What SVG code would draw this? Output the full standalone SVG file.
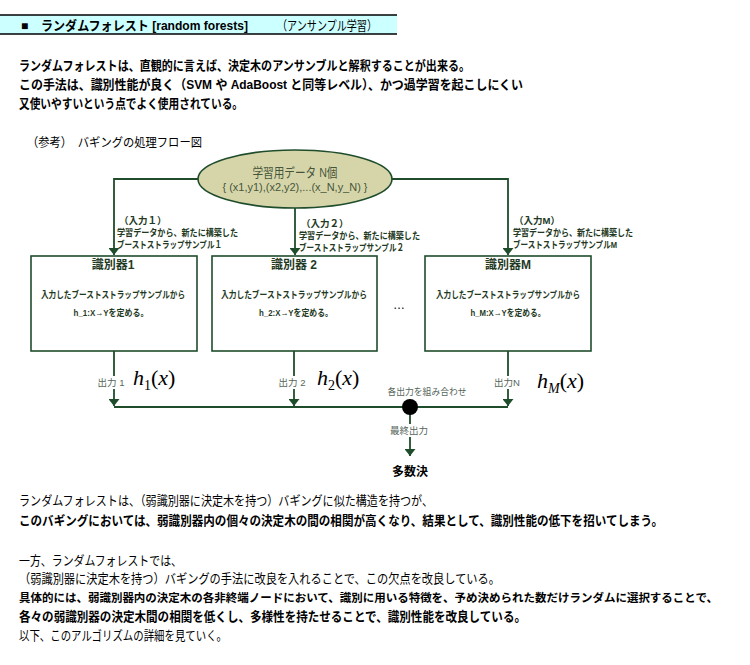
<svg xmlns="http://www.w3.org/2000/svg" width="750" height="665" viewBox="0 0 750 665">
<defs>
<style>
text{font-family:"Liberation Sans","Noto Sans CJK JP",sans-serif;fill:#000}
.b{font-weight:bold}
.body{font-size:13px}
.lab{font-size:9.5px;font-weight:bold;fill:#223822}
.box{fill:#fff;stroke:#1f4d2c;stroke-width:1.6}
.btitle{font-size:12px;font-weight:bold;fill:#1f3a24}
.btext{font-size:9.5px;font-weight:bold;fill:#1f3a24}
.out{font-size:9.5px;fill:#56665a}
.math{font-family:"Liberation Serif","DejaVu Serif",serif;font-size:22px;fill:#000}
.conn{fill:none;stroke:#1f4d2c;stroke-width:1.8}
</style>
<marker id="ah" viewBox="0 0 7 11" refX="7" refY="5.5" markerWidth="7" markerHeight="11" markerUnits="userSpaceOnUse" orient="auto">
<path d="M0,0 L7,5.5 L0,11 z" fill="#1f4d2c"/>
</marker>
</defs>
<rect width="750" height="665" fill="#fff"/>

<g id="header">
<rect x="0" y="15" width="397" height="19" fill="#ccffff"/>
<line x1="0" y1="15" x2="397" y2="15" stroke="#000" stroke-width="1.5"/>
<line x1="0" y1="34" x2="397" y2="34" stroke="#000" stroke-width="1.5"/>
<text x="21" y="29.5" class="b" font-size="12">■</text>
<text x="41" y="29.5" class="b" font-size="13" textLength="207" lengthAdjust="spacingAndGlyphs">ランダムフォレスト [random forests]</text>
<text x="277" y="29.5" font-size="13" textLength="100" lengthAdjust="spacingAndGlyphs">（アンサンプル学習）</text>
</g>

<g id="intro">
<text x="19" y="70" class="body b" textLength="451" lengthAdjust="spacingAndGlyphs">ランダムフォレストは、直観的に言えば、決定木のアンサンブルと解釈することが出来る。</text>
<text x="19" y="89" class="body b" textLength="504" lengthAdjust="spacingAndGlyphs">この手法は、識別性能が良く（SVM や AdaBoost と同等レベル）、かつ過学習を起こしにくい</text>
<text x="19" y="108" class="body b" textLength="224" lengthAdjust="spacingAndGlyphs">又使いやすいという点でよく使用されている。</text>
<text x="27" y="146.5" font-size="12.5" textLength="175" lengthAdjust="spacingAndGlyphs">（参考）　バギングの処理フロー図</text>
</g>

<g id="connectors">
<path class="conn" d="M199,179 H114 V255" marker-end="url(#ah)"/>
<path class="conn" d="M295,208 V255" marker-end="url(#ah)"/>
<path class="conn" d="M391,179 H508 V255" marker-end="url(#ah)"/>
<path class="conn" d="M114,351 V406" marker-end="url(#ah)"/>
<path class="conn" d="M294,351 V406" marker-end="url(#ah)"/>
<path class="conn" d="M508,351 V406" marker-end="url(#ah)"/>
<path class="conn" d="M114,407 H508"/>
<path class="conn" d="M410,407 V456" marker-end="url(#ah)"/>
</g>

<g id="data">
<ellipse cx="295" cy="179" rx="97" ry="29" fill="#d6d5aa" stroke="#1f4d2c" stroke-width="1.6"/>
<text x="295" y="177" text-anchor="middle" font-size="13" style="fill:#46553a" textLength="85" lengthAdjust="spacingAndGlyphs">学習用データ N個</text>
<text x="295" y="191" text-anchor="middle" font-size="10.5" style="fill:#46553a" textLength="145" lengthAdjust="spacingAndGlyphs">{ (x1,y1),(x2,y2),...(x_N,y_N) }</text>
</g>

<g id="input1">
<text x="119" y="224" class="lab">（入力１）</text>
<text x="117" y="236" class="lab" textLength="121" lengthAdjust="spacingAndGlyphs">学習データから、新たに構築した</text>
<text x="117" y="248" class="lab" textLength="105" lengthAdjust="spacingAndGlyphs">ブーストストラップサンプル１</text>
</g>
<g id="input2">
<text x="301" y="227" class="lab">（入力２）</text>
<text x="299" y="239" class="lab" textLength="121" lengthAdjust="spacingAndGlyphs">学習データから、新たに構築した</text>
<text x="299" y="251" class="lab" textLength="105" lengthAdjust="spacingAndGlyphs">ブーストストラップサンプル２</text>
</g>
<g id="inputM">
<text x="514" y="224" class="lab">（入力M）</text>
<text x="513" y="236" class="lab" textLength="120" lengthAdjust="spacingAndGlyphs">学習データから、新たに構築した</text>
<text x="513" y="248" class="lab" textLength="104" lengthAdjust="spacingAndGlyphs">ブーストストラップサンプルM</text>
</g>

<g id="clf1">
<rect class="box" x="31" y="256" width="166" height="95"/>
<text x="113" y="269" class="btitle" text-anchor="middle">識別器1</text>
<text x="113" y="298" class="btext" text-anchor="middle" textLength="144" lengthAdjust="spacingAndGlyphs">入力したブーストストラップサンプルから</text>
<text x="111" y="316" class="btext" text-anchor="middle" textLength="75" lengthAdjust="spacingAndGlyphs">h_1:X→Yを定める。</text>
</g>
<g id="clf2">
<rect class="box" x="212" y="256" width="165" height="95"/>
<text x="294" y="269" class="btitle" text-anchor="middle">識別器 2</text>
<text x="294" y="298" class="btext" text-anchor="middle" textLength="146" lengthAdjust="spacingAndGlyphs">入力したブーストストラップサンプルから</text>
<text x="296" y="316" class="btext" text-anchor="middle" textLength="74" lengthAdjust="spacingAndGlyphs">h_2:X→Yを定める。</text>
</g>
<g id="dots">
<text x="399" y="309" text-anchor="middle" font-size="12" fill="#333" textLength="12" lengthAdjust="spacingAndGlyphs">…</text>
</g>
<g id="clfM">
<rect class="box" x="425" y="256" width="166" height="95"/>
<text x="508" y="269" class="btitle" text-anchor="middle">識別器M</text>
<text x="508" y="298" class="btext" text-anchor="middle" textLength="144" lengthAdjust="spacingAndGlyphs">入力したブーストストラップサンプルから</text>
<text x="508" y="316" class="btext" text-anchor="middle" textLength="75" lengthAdjust="spacingAndGlyphs">h_M:X→Yを定める。</text>
</g>

<g id="outputs">
<rect x="97" y="376" width="28" height="13" fill="#fff"/>
<text x="111" y="386" class="out" text-anchor="middle">出力 1</text>
<rect x="278" y="376" width="29" height="13" fill="#fff"/>
<text x="292" y="386" class="out" text-anchor="middle">出力 2</text>
<rect x="494" y="376" width="27" height="13" fill="#fff"/>
<text x="507" y="386" class="out" text-anchor="middle">出力N</text>
<text x="133" y="385" class="math"><tspan font-style="italic">h</tspan><tspan font-size="14" dy="5">1</tspan><tspan dy="-5">(</tspan><tspan font-style="italic">x</tspan>)</text>
<text x="317" y="385" class="math"><tspan font-style="italic">h</tspan><tspan font-size="14" dy="5">2</tspan><tspan dy="-5">(</tspan><tspan font-style="italic">x</tspan>)</text>
<text x="537" y="388" class="math"><tspan font-style="italic">h</tspan><tspan font-size="14" font-style="italic" dy="5">M</tspan><tspan dy="-5">(</tspan><tspan font-style="italic">x</tspan>)</text>
</g>

<g id="combine">
<circle cx="410" cy="407" r="8" fill="#000"/>
<text x="427" y="395" class="out" text-anchor="middle" textLength="79" lengthAdjust="spacingAndGlyphs">各出力を組み合わせ</text>
<rect x="390" y="424" width="39" height="13" fill="#fff"/>
<text x="409" y="434" class="out" text-anchor="middle">最終出力</text>
</g>
<g id="vote">
<text x="410" y="476" class="b" font-size="12" text-anchor="middle">多数決</text>
</g>

<g id="body2">
<text x="19" y="505" class="body" textLength="414" lengthAdjust="spacingAndGlyphs">ランダムフォレストは、（弱識別器に決定木を持つ）バギングに似た構造を持つが、</text>
<text x="19" y="525" class="body b" textLength="644" lengthAdjust="spacingAndGlyphs">このバギングにおいては、弱識別器内の個々の決定木の間の相関が高くなり、結果として、識別性能の低下を招いてしまう。</text>
<text x="19" y="565" class="body" textLength="163" lengthAdjust="spacingAndGlyphs">一方、ランダムフォレストでは、</text>
<text x="19" y="583" class="body" textLength="481" lengthAdjust="spacingAndGlyphs">（弱識別器に決定木を持つ）バギングの手法に改良を入れることで、この欠点を改良している。</text>
<text x="19" y="602" class="b" font-size="11.8" textLength="699" lengthAdjust="spacingAndGlyphs">具体的には、弱識別器内の決定木の各非終端ノードにおいて、識別に用いる特徴を、予め決められた数だけランダムに選択することで、</text>
<text x="19" y="621" class="body b" textLength="507" lengthAdjust="spacingAndGlyphs">各々の弱識別器の決定木間の相関を低くし、多様性を持たせることで、識別性能を改良している。</text>
<text x="19" y="640" class="body" textLength="208" lengthAdjust="spacingAndGlyphs">以下、このアルゴリズムの詳細を見ていく。</text>
</g>
</svg>
